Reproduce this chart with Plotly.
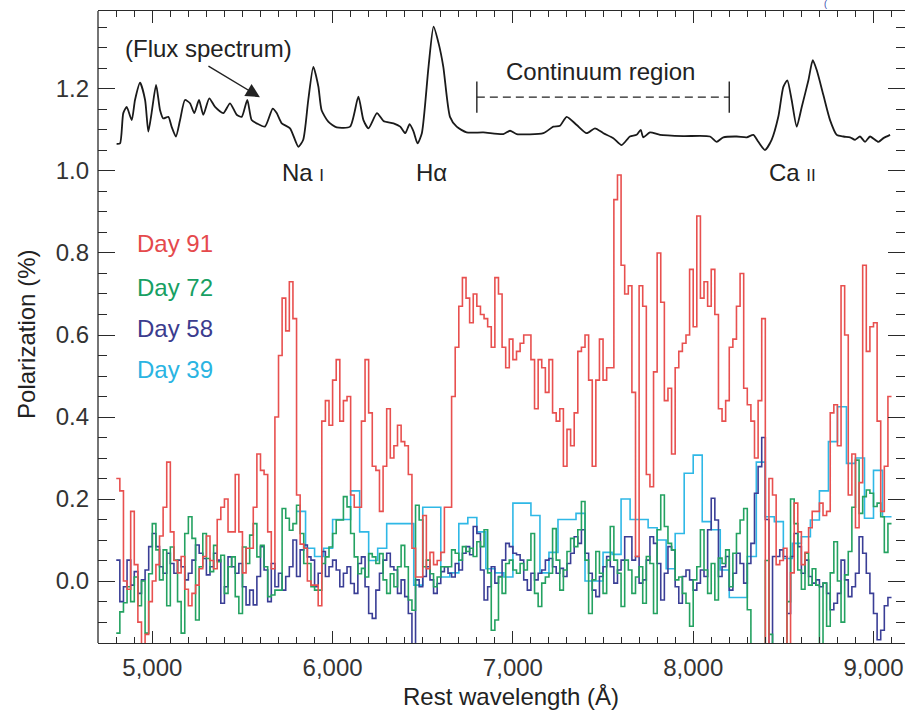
import numpy as np
import plotly.graph_objects as go

# ---------------- data ----------------
BIN_START = 4800      # Angstrom, first bin edge of Day 91/72/58
BIN_WIDTH = 20        # Angstrom
CYAN_START = 5800     # Day 39 first bin edge
CYAN_WIDTH = 50

day91 = [
    0.25, 0.22, 0.00, -0.02, 0.17, 0.04, -0.10, -0.17, -0.13, -0.05,
    0.00, 0.04, 0.11, 0.18, 0.29, 0.12, 0.05, 0.02, 0.06, -0.02,
    -0.06, -0.03, -0.01, 0.03, 0.06, 0.11, 0.05, 0.03, 0.15, 0.18,
    0.20, 0.12, 0.12, 0.26, 0.12, 0.02, 0.08, 0.08, 0.18, 0.31,
    0.27, 0.26, 0.12, 0.03, 0.40, 0.55, 0.69, 0.61, 0.73, 0.64,
    0.21, 0.09, 0.08, 0.00, -0.01, -0.01, -0.06, 0.39, 0.44, 0.38,
    0.49, 0.54, 0.39, 0.44, 0.45, 0.21, 0.18, 0.18, 0.39, 0.54,
    0.41, 0.28, 0.27, 0.17, 0.28, 0.42, 0.30, 0.33, 0.38, 0.34,
    0.33, 0.26, 0.08, 0.01, 0.01, 0.16, 0.03, 0.07, 0.04, 0.05,
    0.07, 0.18, 0.18, 0.45, 0.57, 0.67, 0.74, 0.69, 0.63, 0.70,
    0.67, 0.65, 0.64, 0.62, 0.57, 0.74, 0.70, 0.57, 0.52, 0.59,
    0.54, 0.56, 0.58, 0.60, 0.60, 0.54, 0.42, 0.54, 0.52, 0.46,
    0.54, 0.41, 0.39, 0.42, 0.28, 0.37, 0.33, 0.41, 0.56, 0.57,
    0.60, 0.49, 0.28, 0.49, 0.59, 0.49, 0.52, 0.52, 0.93, 0.99,
    0.77, 0.70, 0.72, 0.46, 0.06, 0.72, 0.67, 0.26, 0.23, 0.51,
    0.80, 0.68, 0.44, 0.47, 0.31, 0.52, 0.56, 0.58, 0.60, 0.76,
    0.62, 0.89, 0.69, 0.73, 0.67, 0.76, 0.65, 0.42, 0.39, 0.44,
    0.57, 0.59, 0.67, 0.75, 0.47, 0.43, 0.39, 0.30, 0.44, 0.64,
    -0.20, 0.25, 0.21, 0.04, 0.05, 0.08, -0.20, 0.02, 0.19, 0.12,
    0.04, 0.07, 0.13, 0.17, 0.17, 0.19, 0.16, 0.17, 0.41, 0.43,
    0.33, 0.72, 0.60, 0.21, 0.31, 0.13, 0.24, 0.77, 0.56, 0.62,
    0.63, 0.39, 0.17, 0.28, 0.45,
]

day72 = [
    -0.127, -0.075, -0.053, -0.014, -0.05, 0.01, -0.06, 0.0, -0.127, 0.018,
    0.14, 0.076, 0.003, 0.076, -0.06, 0.083, 0.051, -0.05, -0.127, 0.116,
    0.157, 0.104, -0.095, 0.035, 0.116, 0.055, 0.023, 0.087, 0.047, 0.063,
    -0.03, 0.035, 0.059, -0.038, -0.079, 0.083, 0.043, 0.112, 0.14, 0.059,
    0.087, 0.035, -0.038, -0.034, -0.022, -0.022, 0.177, 0.153, 0.124, 0.14,
    0.185, 0.116, 0.043, 0.043, -0.014, -0.022, -0.022, 0.043, 0.059, 0.083,
    0.116, 0.149, 0.149, 0.206, 0.181, 0.116, 0.059, 0.018, 0.031, 0.01,
    0.067, 0.059, 0.043, 0.067, 0.003, -0.03, 0.018, -0.014, 0.035, 0.087,
    0.035, -0.046, -0.071, 0.185, 0.149, 0.035, 0.051, 0.018, -0.014, 0.01,
    0.035, 0.035, 0.035,
    0.076, 0.068, 0.051, 0.084, 0.072, 0.08, 0.06, 0.096, 0.084, 0.125,
    0.02, -0.12,
    -0.095, 0.01, -0.03, 0.043, 0.051, 0.027, 0.019, 0.043, 0.027, 0.051,
    0.116, -0.03, -0.062, -0.005, 0.01, 0.019, 0.128, 0.051, -0.022, 0.027,
    0.072, 0.104, 0.084, 0.125, 0.194, 0.051, -0.079, 0.003, 0.072, 0.019,
    -0.03, 0.051, 0.133, 0.051, 0.019, -0.062, 0.051,
    0.027, -0.03, 0.01, 0.035, -0.054, 0.06, 0.043, -0.079, 0.125, 0.21,
    0.133, 0.092, 0.076, 0.003, 0.01, -0.03, -0.054, -0.11, 0.003, 0.035,
    0.125, 0.027, -0.03, 0.043, -0.046, 0.056, 0.043, 0.076, -0.014, 0.068,
    0.116, 0.149, 0.177, -0.07, -0.16, -0.16,
    -0.2, -0.2, 0.05, -0.13, -0.2, -0.2, -0.2, -0.2, -0.05, 0.20,
    0.14, 0.027, -0.02, 0.068, -0.01, 0.03, -0.01, -0.2, -0.005, -0.11,
    0.02, 0.096, 0.0, -0.1, 0.015, 0.072, 0.18, 0.295, 0.165, 0.206,
    0.222, 0.214, 0.182, 0.19, 0.157, 0.07, 0.14,
]

day58 = [
    0.051, -0.05, -0.014, 0.051, -0.01, 0.023, -0.03, 0.003, 0.027, 0.084,
    0.116, 0.084, 0.035, 0.019, 0.068, 0.043, 0.019, 0.051, 0.035, 0.003,
    0.019, 0.051, 0.088, 0.068, 0.055, 0.015, 0.035, 0.068, 0.051, -0.054,
    -0.014, 0.059, 0.035, 0.019, 0.043, -0.014, -0.058, -0.022, -0.058, 0.011,
    0.084, 0.027, -0.05, 0.043, -0.014, 0.019, -0.022, 0.011, 0.035, 0.100,
    0.011, 0.076, 0.088, 0.059, 0.051, -0.014, 0.019, 0.072, 0.011, 0.035,
    0.051, 0.027, -0.014, 0.019, 0.035, -0.006, -0.03, 0.043, 0.059, -0.014,
    -0.079, -0.091, -0.022, 0.019, 0.051, 0.068, 0.035, 0.027, -0.03, 0.003,
    -0.038, -0.079, -0.2, 0.003, -0.014, 0.011, 0.035, 0.003, -0.03, -0.006,
    0.023, 0.035, 0.019,
    0.01, 0.043, 0.027, 0.068, 0.084, 0.064, 0.133, 0.116, 0.027, -0.046,
    -0.014, 0.035,
    -0.005, 0.011, 0.051, 0.092, 0.084, 0.068, 0.064, 0.051, 0.003, -0.022,
    0.019, 0.003, 0.019, 0.027, 0.051, 0.055, 0.035, 0.019, 0.031, 0.011,
    0.043, 0.068, 0.108, 0.092, 0.125, 0.068, 0.019, -0.022, -0.038, 0.011,
    0.035, 0.06, 0.035, -0.005, 0.027, 0.051, 0.108,
    0.108, 0.051, 0.06, -0.005, 0.003, 0.051, 0.108, 0.092, 0.043, -0.046,
    0.019, 0.084, 0.076, -0.014, -0.054, 0.011, 0.027, 0.003, -0.022, -0.005,
    0.027, 0.011, 0.125, 0.202, 0.149, 0.011, 0.035, 0.06, -0.022, 0.019,
    0.068, 0.043, -0.005, 0.043, 0.092, 0.214, 0.279,
    0.35, 0.15, -0.2, 0.06, 0.06, 0.076, 0.06, -0.079, 0.06, 0.116,
    0.084, 0.019, 0.051, 0.011, -0.005, 0.003, -0.014, -0.005, -0.03, -0.07,
    -0.054, -0.03, 0.051, 0.003, -0.038, -0.014, 0.019, 0.108, 0.068, 0.019,
    -0.03, -0.079, -0.143, -0.12, -0.06, -0.04,
]

day39 = [
    0.17, 0.08, 0.06, 0.08, 0.15, 0.15, 0.22, 0.12, 0.05, 0.08,
    0.14, 0.14, 0.14, -0.01, 0.18, 0.18, 0.01, 0.02, 0.14, 0.155,
    0.12, 0.03, 0.02, 0.01, 0.19, 0.19, 0.16, 0.02, 0.07, 0.15,
    0.15, 0.165, 0.0, 0.0, 0.07, 0.065, 0.20, 0.15, 0.15, 0.13,
    0.10, 0.03, 0.116, 0.263, 0.307, 0.145, 0.125, 0.027, -0.04, -0.04,
    0.06, 0.29, 0.157, 0.145, 0.055, 0.092, 0.108, 0.149, 0.22, 0.34,
    0.425, 0.287, 0.30, 0.153, 0.27, 0.157,
]

flux_wl = [
    4802, 4821, 4839, 4858, 4886, 4904, 4932, 4960, 4978, 4996,
    5021, 5043, 5061, 5089, 5107, 5131, 5154, 5181, 5209, 5233,
    5259, 5283, 5316, 5348, 5394, 5431, 5468, 5496, 5527, 5551,
    5579, 5625, 5668, 5690, 5718, 5764, 5810, 5837, 5865, 5893,
    5921, 5939, 5976, 6023, 6097, 6143, 6171, 6199, 6246, 6282,
    6338, 6375, 6403, 6427, 6449, 6471, 6495, 6532, 6560, 6588,
    6614, 6651, 6688, 6743, 6836, 6947, 6984, 7021, 7169, 7224,
    7261, 7298, 7354, 7409, 7455, 7502, 7557, 7603, 7649, 7686,
    7709, 7723, 7760, 7816, 7945, 8093, 8130, 8167, 8241, 8297,
    8334, 8361, 8398, 8435, 8472, 8500, 8522, 8546, 8574, 8602,
    8639, 8663, 8685, 8722, 8759, 8796, 8833, 8870, 8898, 8925,
    8953, 8981, 9027, 9055, 9092,
]
flux_val = [
    1.066, 1.067, 1.141, 1.156, 1.124, 1.173, 1.215, 1.173, 1.096, 1.141,
    1.210, 1.148, 1.128, 1.132, 1.108, 1.084, 1.124, 1.173, 1.165, 1.141,
    1.173, 1.137, 1.177, 1.156, 1.141, 1.165, 1.137, 1.132, 1.173, 1.124,
    1.116, 1.108, 1.152, 1.141, 1.116, 1.104, 1.059, 1.076, 1.173, 1.254,
    1.206, 1.148, 1.120, 1.106, 1.108, 1.181, 1.124, 1.104, 1.141, 1.122,
    1.116, 1.108, 1.092, 1.114, 1.096, 1.067, 1.092, 1.254, 1.352, 1.311,
    1.254, 1.132, 1.108, 1.094, 1.094, 1.090, 1.098, 1.090, 1.092, 1.108,
    1.110, 1.132, 1.112, 1.092, 1.104, 1.092, 1.080, 1.063, 1.084, 1.088,
    1.100, 1.082, 1.094, 1.088, 1.085, 1.084, 1.071, 1.082, 1.084, 1.082,
    1.088, 1.071, 1.051, 1.076, 1.132, 1.205, 1.221, 1.173, 1.108, 1.156,
    1.221, 1.270, 1.246, 1.185, 1.124, 1.088, 1.084, 1.082, 1.076, 1.084,
    1.071, 1.084, 1.071, 1.080, 1.088,
]

continuum_range = [6800, 8200]
continuum_level = 1.18
x_range = [4698.8, 9174.7]
y_range = [-0.151, 1.390]

series = [
    ("Day 39", day39, CYAN_START, CYAN_WIDTH, "#2FB8E6"),
    ("Day 58", day58, BIN_START, BIN_WIDTH, "#3A3E96"),
    ("Day 72", day72, BIN_START, BIN_WIDTH, "#24A261"),
    ("Day 91", day91, BIN_START, BIN_WIDTH, "#E8504F"),
]
legend_order = ["Day 91", "Day 72", "Day 58", "Day 39"]
legend_y = [0.822, 0.717, 0.615, 0.517]
text_colors = {"Day 91": "#E5494C", "Day 72": "#17A063",
               "Day 58": "#3B3C8E", "Day 39": "#2AB4E2"}

FONT = "Liberation Sans, Arial, Helvetica, sans-serif"
AX = "#2a2a2a"


def steps(start, width, vals):
    x = start + width * np.arange(len(vals) + 1)
    y = list(vals) + [vals[-1]]
    return x, y


fig = go.Figure()
for name, vals, s0, w, col in series:
    xs, ys = steps(s0, w, vals)
    fig.add_trace(go.Scatter(x=xs, y=ys, mode="lines", line_shape="hv",
                             line=dict(color=col, width=1.6), name=name,
                             showlegend=False, hoverinfo="skip"))

fig.add_trace(go.Scatter(x=flux_wl, y=flux_val, mode="lines",
                         line=dict(color="#1a1a1a", width=1.8, shape="spline",
                                   smoothing=0.6),
                         showlegend=False, hoverinfo="skip"))

shapes = [
    dict(type="line", xref="paper", yref="paper", x0=0, x1=0, y0=0, y1=1,
         line=dict(color=AX, width=1.3)),
    dict(type="line", xref="x", yref="y", x0=continuum_range[0], x1=continuum_range[1],
         y0=continuum_level, y1=continuum_level,
         line=dict(color="#222", width=1.4, dash="8px,5px")),
]
for xc in continuum_range:
    shapes.append(dict(type="line", xref="x", yref="y", x0=xc, x1=xc,
                       y0=continuum_level - 0.038, y1=continuum_level + 0.038,
                       line=dict(color="#222", width=1.4)))

ann = []
for name, yy in zip(legend_order, legend_y):
    ann.append(dict(x=4904, y=yy, xref="x", yref="y", text=name, showarrow=False,
                    xanchor="left", yanchor="middle",
                    font=dict(family=FONT, size=24, color=text_colors[name])))

lab_font = dict(family=FONT, size=24, color="#222")
ann += [
    dict(x=5836, y=0.997, xref="x", yref="y",
         text="Na <span style='font-size:17px'>I</span>", showarrow=False,
         xanchor="center", yanchor="middle", font=lab_font),
    dict(x=6546, y=0.997, xref="x", yref="y", text="H\u03b1", showarrow=False,
         xanchor="center", yanchor="middle", font=lab_font),
    dict(x=8553, y=0.997, xref="x", yref="y",
         text="Ca <span style='font-size:17px'>II</span>", showarrow=False,
         xanchor="center", yanchor="middle", font=lab_font),
    dict(x=7488, y=1.243, xref="x", yref="y", text="Continuum region",
         showarrow=False, xanchor="center", yanchor="middle", font=lab_font),
    dict(x=5313, y=1.298, xref="x", yref="y", text="(Flux spectrum)",
         showarrow=False, xanchor="center", yanchor="middle", font=lab_font),
    dict(x=5597, y=1.180, xref="x", yref="y", text="", showarrow=True,
         ax=-53, ay=-32, arrowhead=2, arrowsize=2.0, arrowwidth=1.4,
         arrowcolor="#222"),
    dict(x=-0.088, y=0.489, xref="paper", yref="paper", text="Polarization (%)",
         textangle=-90, showarrow=False, xanchor="center", yanchor="middle",
         font=lab_font),
    dict(x=0.512, y=-0.084, xref="paper", yref="paper", text="Rest wavelength (\u00c5)",
         showarrow=False, xanchor="center", yanchor="middle", font=lab_font),
    dict(x=0.902, y=1.0, xref="paper", yref="paper", text="(",
         showarrow=False, xanchor="center", yanchor="bottom",
         font=dict(family=FONT, size=9, color="#2F3FA8")),
]

fig.update_layout(
    width=905, height=714,
    margin=dict(l=98, r=0, t=11, b=71, pad=0),
    paper_bgcolor="white", plot_bgcolor="white",
    font=dict(family=FONT, size=24, color="#333"),
    shapes=shapes, annotations=ann, showlegend=False,
    xaxis=dict(range=x_range, showgrid=False, zeroline=False,
               showline=True, linecolor=AX, linewidth=1.3, mirror="ticks",
               ticks="inside", ticklen=12, tickwidth=1.3, tickcolor=AX,
               tick0=0, dtick=1000, tickformat=",d",
               tickfont=dict(family=FONT, size=24, color="#333"),
               ticklabelstandoff=3,
               minor=dict(dtick=100, tick0=0, ticks="inside", ticklen=6,
                          tickwidth=1.2, tickcolor=AX, showgrid=False)),
    yaxis=dict(range=y_range, showgrid=False, zeroline=False,
               showline=False, mirror="ticks",
               ticks="inside", ticklen=17, tickwidth=1.3, tickcolor=AX,
               tick0=0, dtick=0.2, tickformat=".1f",
               tickfont=dict(family=FONT, size=24, color="#333"),
               ticklabelstandoff=8,
               minor=dict(dtick=0.05, tick0=0, ticks="inside", ticklen=9,
                          tickwidth=1.2, tickcolor=AX, showgrid=False)),
)

fig.write_html("out.html")
